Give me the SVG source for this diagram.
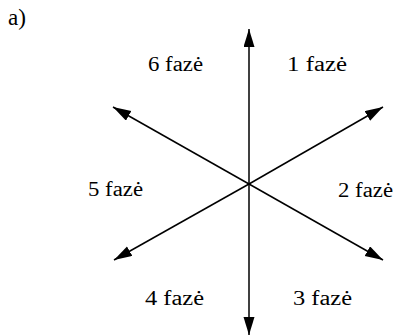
<svg xmlns="http://www.w3.org/2000/svg" width="399" height="336" viewBox="0 0 399 336">
<style>
text{font-family:"Liberation Serif","Times New Roman",serif;font-size:20px;fill:#000}
.ax{stroke:#000;stroke-width:1.5;fill:none;marker-end:url(#ah)}
</style>
<defs>
<marker id="ah" markerUnits="userSpaceOnUse" markerWidth="18" markerHeight="12" refX="18" refY="5.5" orient="auto">
<path d="M0,0 L18,5.5 L0,11 z" fill="#000"/>
</marker>
</defs>
<rect width="399" height="336" fill="#fff"/>
<text id="label-a" x="8" y="25" style="font-size:23px" textLength="18" lengthAdjust="spacingAndGlyphs">a)</text>
<g id="connectors">
<line class="ax" x1="249" y1="184" x2="249" y2="29"/>
<line class="ax" x1="249" y1="184" x2="249" y2="335"/>
<line class="ax" x1="249" y1="184" x2="383" y2="107"/>
<line class="ax" x1="249" y1="184" x2="383" y2="260"/>
<line class="ax" x1="249" y1="184" x2="113" y2="107"/>
<line class="ax" x1="249" y1="184" x2="114" y2="260"/>
</g>
<g id="phase1"><text x="287" y="71" textLength="60" lengthAdjust="spacingAndGlyphs">1 fazė</text></g>
<g id="phase2"><text x="338" y="197" textLength="55" lengthAdjust="spacingAndGlyphs">2 fazė</text></g>
<g id="phase3"><text x="293" y="305" textLength="59" lengthAdjust="spacingAndGlyphs">3 fazė</text></g>
<g id="phase4"><text x="145" y="305" textLength="59" lengthAdjust="spacingAndGlyphs">4 fazė</text></g>
<g id="phase5"><text x="88" y="196" textLength="55" lengthAdjust="spacingAndGlyphs">5 fazė</text></g>
<g id="phase6"><text x="148" y="71" textLength="55" lengthAdjust="spacingAndGlyphs">6 fazė</text></g>
</svg>
